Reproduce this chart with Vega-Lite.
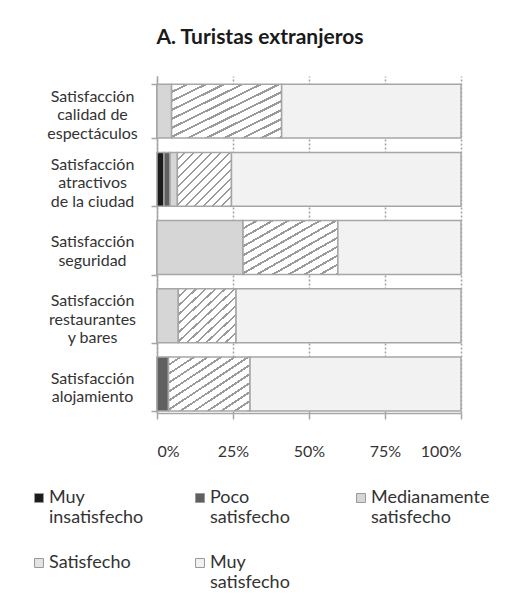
{
  "$schema": "https://vega.github.io/schema/vega-lite/v6.json",
  "width": 304,
  "height": 337,
  "padding": {"left": 30, "top": 27, "right": 0, "bottom": 0},
  "background": "white",
  "title": {"text": "A. Turistas extranjeros", "font": "Lato", "fontSize": 21, "fontWeight": "bold", "color": "#1a1a1a", "frame": "bounds", "anchor": "middle", "offset": 20, "dx": 0},
  "data": {
    "values": [
      {"aspecto": "Satisfacción|calidad de|espectáculos", "nivel": "Muy insatisfecho", "orden": 1, "porcentaje": 0},
      {"aspecto": "Satisfacción|calidad de|espectáculos", "nivel": "Poco satisfecho", "orden": 2, "porcentaje": 0},
      {"aspecto": "Satisfacción|calidad de|espectáculos", "nivel": "Medianamente satisfecho", "orden": 3, "porcentaje": 4.8},
      {"aspecto": "Satisfacción|calidad de|espectáculos", "nivel": "Satisfecho", "orden": 4, "porcentaje": 36.2},
      {"aspecto": "Satisfacción|calidad de|espectáculos", "nivel": "Muy satisfecho", "orden": 5, "porcentaje": 59.0},
      {"aspecto": "Satisfacción|atractivos|de la ciudad", "nivel": "Muy insatisfecho", "orden": 1, "porcentaje": 2.3},
      {"aspecto": "Satisfacción|atractivos|de la ciudad", "nivel": "Poco satisfecho", "orden": 2, "porcentaje": 2.0},
      {"aspecto": "Satisfacción|atractivos|de la ciudad", "nivel": "Medianamente satisfecho", "orden": 3, "porcentaje": 2.4},
      {"aspecto": "Satisfacción|atractivos|de la ciudad", "nivel": "Satisfecho", "orden": 4, "porcentaje": 17.8},
      {"aspecto": "Satisfacción|atractivos|de la ciudad", "nivel": "Muy satisfecho", "orden": 5, "porcentaje": 75.5},
      {"aspecto": "Satisfacción|seguridad", "nivel": "Muy insatisfecho", "orden": 1, "porcentaje": 0},
      {"aspecto": "Satisfacción|seguridad", "nivel": "Poco satisfecho", "orden": 2, "porcentaje": 0},
      {"aspecto": "Satisfacción|seguridad", "nivel": "Medianamente satisfecho", "orden": 3, "porcentaje": 28.3},
      {"aspecto": "Satisfacción|seguridad", "nivel": "Satisfecho", "orden": 4, "porcentaje": 31.2},
      {"aspecto": "Satisfacción|seguridad", "nivel": "Muy satisfecho", "orden": 5, "porcentaje": 40.5},
      {"aspecto": "Satisfacción|restaurantes|y bares", "nivel": "Muy insatisfecho", "orden": 1, "porcentaje": 0},
      {"aspecto": "Satisfacción|restaurantes|y bares", "nivel": "Poco satisfecho", "orden": 2, "porcentaje": 0},
      {"aspecto": "Satisfacción|restaurantes|y bares", "nivel": "Medianamente satisfecho", "orden": 3, "porcentaje": 7.0},
      {"aspecto": "Satisfacción|restaurantes|y bares", "nivel": "Satisfecho", "orden": 4, "porcentaje": 19.0},
      {"aspecto": "Satisfacción|restaurantes|y bares", "nivel": "Muy satisfecho", "orden": 5, "porcentaje": 74.0},
      {"aspecto": "Satisfacción|alojamiento", "nivel": "Muy insatisfecho", "orden": 1, "porcentaje": 0},
      {"aspecto": "Satisfacción|alojamiento", "nivel": "Poco satisfecho", "orden": 2, "porcentaje": 3.8},
      {"aspecto": "Satisfacción|alojamiento", "nivel": "Medianamente satisfecho", "orden": 3, "porcentaje": 0},
      {"aspecto": "Satisfacción|alojamiento", "nivel": "Satisfecho", "orden": 4, "porcentaje": 26.8},
      {"aspecto": "Satisfacción|alojamiento", "nivel": "Muy satisfecho", "orden": 5, "porcentaje": 69.4}
    ]
  },
  "mark": {"type": "bar", "stroke": "#a6a6a6", "strokeWidth": 1.5},
  "encoding": {
    "y": {
      "field": "aspecto",
      "type": "nominal",
      "sort": null,
      "scale": {"paddingInner": 0.21, "paddingOuter": 0.075, "align": 0.8},
      "axis": {
        "title": null,
        "labelExpr": "split(datum.label, '|')",
        "tickBand": "extent",
        "labelAlign": "center",
        "labelBaseline": "middle",
        "labelPadding": 59,
        "labelOffset": {"condition": {"test": "length(split(datum.value, '|')) == 2", "value": -6}, "value": -15},
        "tickSize": 6,
        "labelFont": "Lato",
        "labelFontSize": 16,
        "labelLineHeight": 18.5,
        "labelColor": "#333333",
        "domainColor": "#a6a6a6",
        "domainWidth": 1.5,
        "tickColor": "#a6a6a6",
        "tickWidth": 1.5,
        "grid": false
      }
    },
    "x": {
      "field": "porcentaje",
      "type": "quantitative",
      "stack": "normalize",
      "axis": {
        "title": null,
        "format": ".0%",
        "values": [0, 0.25, 0.5, 0.75, 1],
        "grid": true,
        "gridDash": [2, 2],
        "gridColor": "#a0a0a0",
        "gridWidth": 1.5,
        "domainColor": "#a6a6a6",
        "domainWidth": 1.5,
        "tickColor": "#a6a6a6",
        "tickWidth": 1.5,
        "tickSize": 6,
        "labelPadding": 24,
        "labelFont": "Lato",
        "labelFontSize": 16,
        "labelColor": "#333333"
      }
    },
    "fill": {
      "condition": {"test": "datum.nivel === 'Satisfecho'", "value": {"gradient": "linear", "x1": 0, "y1": 0, "x2": 1, "y2": 1, "stops": [
            {"offset": 0, "color": "#ffffff"}, {"offset": 0.0625, "color": "#ffffff"}, {"offset": 0.0625, "color": "#9a9a9a"}, {"offset": 0.0833, "color": "#9a9a9a"},
            {"offset": 0.0833, "color": "#ffffff"}, {"offset": 0.1458, "color": "#ffffff"}, {"offset": 0.1458, "color": "#9a9a9a"}, {"offset": 0.1667, "color": "#9a9a9a"},
            {"offset": 0.1667, "color": "#ffffff"}, {"offset": 0.2292, "color": "#ffffff"}, {"offset": 0.2292, "color": "#9a9a9a"}, {"offset": 0.25, "color": "#9a9a9a"},
            {"offset": 0.25, "color": "#ffffff"}, {"offset": 0.3125, "color": "#ffffff"}, {"offset": 0.3125, "color": "#9a9a9a"}, {"offset": 0.3333, "color": "#9a9a9a"},
            {"offset": 0.3333, "color": "#ffffff"}, {"offset": 0.3958, "color": "#ffffff"}, {"offset": 0.3958, "color": "#9a9a9a"}, {"offset": 0.4167, "color": "#9a9a9a"},
            {"offset": 0.4167, "color": "#ffffff"}, {"offset": 0.4792, "color": "#ffffff"}, {"offset": 0.4792, "color": "#9a9a9a"}, {"offset": 0.5, "color": "#9a9a9a"},
            {"offset": 0.5, "color": "#ffffff"}, {"offset": 0.5625, "color": "#ffffff"}, {"offset": 0.5625, "color": "#9a9a9a"}, {"offset": 0.5833, "color": "#9a9a9a"},
            {"offset": 0.5833, "color": "#ffffff"}, {"offset": 0.6458, "color": "#ffffff"}, {"offset": 0.6458, "color": "#9a9a9a"}, {"offset": 0.6667, "color": "#9a9a9a"},
            {"offset": 0.6667, "color": "#ffffff"}, {"offset": 0.7292, "color": "#ffffff"}, {"offset": 0.7292, "color": "#9a9a9a"}, {"offset": 0.75, "color": "#9a9a9a"},
            {"offset": 0.75, "color": "#ffffff"}, {"offset": 0.8125, "color": "#ffffff"}, {"offset": 0.8125, "color": "#9a9a9a"}, {"offset": 0.8333, "color": "#9a9a9a"},
            {"offset": 0.8333, "color": "#ffffff"}, {"offset": 0.8958, "color": "#ffffff"}, {"offset": 0.8958, "color": "#9a9a9a"}, {"offset": 0.9167, "color": "#9a9a9a"},
            {"offset": 0.9167, "color": "#ffffff"}, {"offset": 0.9792, "color": "#ffffff"}, {"offset": 0.9792, "color": "#9a9a9a"}, {"offset": 1, "color": "#9a9a9a"}
          ]}},
      "field": "nivel",
      "type": "nominal",
      "scale": {
        "domain": ["Muy insatisfecho", "Poco satisfecho", "Medianamente satisfecho", "Satisfecho", "Muy satisfecho"],
        "range": ["#1c1c1c", "#606060", "#d6d6d6", "#e4e4e4", "#f2f2f2"]
      },
      "legend": {
        "title": null,
        "orient": "none",
        "legendX": -127,
        "legendY": 413,
        "direction": "horizontal",
        "columns": 3,
        "gridAlign": "all",
        "columnPadding": 23,
        "rowPadding": 27,
        "symbolType": "square",
        "symbolSize": 80,
        "symbolStrokeColor": "#999999",
        "symbolStrokeWidth": 1,
        "labelFont": "Lato",
        "labelFontSize": 18,
        "labelColor": "#333333",
        "labelExpr": "split(datum.label, ' ')",
        "labelOffset": 1,
        "labelLimit": 250
      }
    },
    "order": {"field": "orden", "type": "quantitative"}
  },
  "config": {"view": {"stroke": null}}
}
